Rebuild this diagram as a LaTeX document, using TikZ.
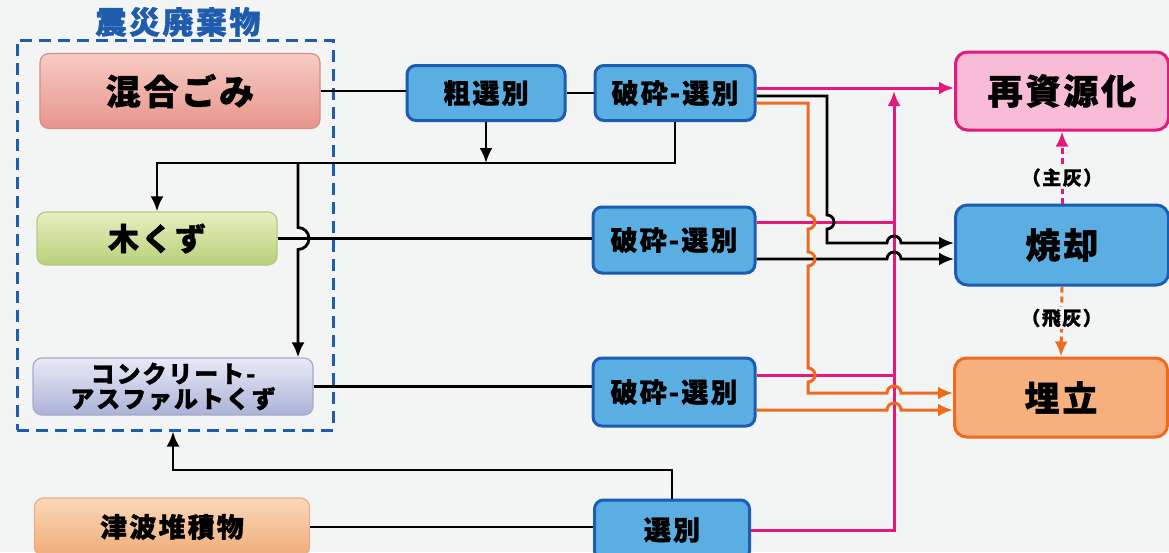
\documentclass[tikz,border=0pt]{standalone}
\usepackage{fontspec}
\setmainfont{Noto Sans CJK JP}[LetterSpace=8, BoldFeatures={FakeBold=1.2}]
\usepackage{tikz}
\usetikzlibrary{positioning,calc}
\usetikzlibrary{arrows.meta}

\definecolor{bgc}{HTML}{F3F4F4}
\definecolor{procfill}{HTML}{5AAEE2}
\definecolor{procline}{HTML}{1A5DB2}
\definecolor{pk}{HTML}{E3197B}
\definecolor{og}{HTML}{EE6A1E}
\definecolor{grpblue}{HTML}{1F5CAE}
\definecolor{mixtop}{HTML}{F7CCC4}
\definecolor{mixbot}{HTML}{E8948A}
\definecolor{mixline}{HTML}{D49088}
\definecolor{woodtop}{HTML}{E6EFC0}
\definecolor{woodbot}{HTML}{B8D07A}
\definecolor{woodline}{HTML}{B4C98A}
\definecolor{conctop}{HTML}{E8EAF6}
\definecolor{concbot}{HTML}{AAB3D8}
\definecolor{concline}{HTML}{A4ABC8}
\definecolor{tsutop}{HTML}{FAD8BA}
\definecolor{tsubot}{HTML}{F0AC78}
\definecolor{tsuline}{HTML}{E6AE8C}
\definecolor{recyfill}{HTML}{F8BCD6}
\definecolor{landfill}{HTML}{F5B07E}

\tikzstyle{src} = [rectangle, rounded corners=9pt, line width=1.2pt, text centered]
\tikzstyle{proc} = [rectangle, rounded corners=9pt, line width=3pt, draw=procline, fill=procfill, text centered, font=\bfseries\fontsize{27}{29}\selectfont]
\tikzstyle{dest} = [rectangle, rounded corners=12pt, line width=3pt, minimum width=213pt, minimum height=78pt, text centered, font=\bfseries\fontsize{35}{37}\selectfont]
\tikzstyle{conn} = [line width=2.8pt, draw=black]
\tikzstyle{pline} = [line width=3pt, draw=pk]
\tikzstyle{oline} = [line width=3pt, draw=og]
\tikzstyle{arrow} = [-{Latex[length=15pt,width=13pt]}]
\tikzstyle{ash} = [fill=bgc, inner sep=2pt, font=\bfseries\fontsize{19}{21}\selectfont]

\begin{document}
\begin{tikzpicture}[x=1pt, y=-1pt]
	\fill[bgc] (0,0) rectangle (1169,552);
	\useasboundingbox (0,0) rectangle (1169,552);
	% disaster waste group
	\node (title) at (178,22) [text=grpblue, font=\bfseries\fontsize{31}{33}\selectfont] {震災廃棄物};
	\node (grp) at (175,235) [draw=grpblue, line width=3pt, dash pattern=on 12pt off 7pt, minimum width=316pt, minimum height=390pt] {};
	\node (mix) at (180,91) [src, minimum width=280pt, minimum height=75pt, draw=mixline, top color=mixtop, bottom color=mixbot, font=\bfseries\fontsize{35}{37}\selectfont] {混合ごみ};
	\node (wood) at (157,238.5) [src, minimum width=240pt, minimum height=53pt, draw=woodline, top color=woodtop, bottom color=woodbot, font=\bfseries\fontsize{31}{33}\selectfont] {木くず};
	\node (conc) at (173,386.5) [src, minimum width=280pt, minimum height=57pt, draw=concline, top color=conctop, bottom color=concbot, align=center, font=\bfseries\fontsize{24}{25}\selectfont] {コンクリート-\\アスファルトくず};
	\node (tsu) at (172,527) [src, minimum width=275pt, minimum height=58pt, draw=tsuline, top color=tsutop, bottom color=tsubot, font=\bfseries\fontsize{27}{29}\selectfont] {津波堆積物};
	% treatment
	\node (rough) at (486,93) [proc, minimum width=158pt, minimum height=55pt] {粗選別};
	\node (crush1) at (675,93) [proc, minimum width=160pt, minimum height=55pt] {破砕-選別};
	\node (crush2) at (674,240) [proc, minimum width=162pt, minimum height=66pt] {破砕-選別};
	\node (crush3) at (674,392) [proc, minimum width=162pt, minimum height=68pt] {破砕-選別};
	\node (sort) at (672,530) [proc, minimum width=155pt, minimum height=60pt] {選別};
	% destinations
	\node (recy) at (1062,91) [dest, draw=pk, fill=recyfill] {再資源化};
	\node (burn) at (1062,245) [dest, draw=procline, fill=procfill, minimum height=80pt] {焼却};
	\node (land) at (1061,397.5) [dest, draw=og, fill=landfill, minimum height=79pt] {埋立};

	\coordinate (c1p) at ([yshift=5pt]crush1.east);
	\coordinate (c1b) at ([yshift=-3pt]crush1.east);
	\coordinate (c1o) at ([yshift=-10pt]crush1.east);
	\coordinate (c2p) at ([yshift=18pt]crush2.east);
	\coordinate (c2b) at ([yshift=-19pt]crush2.east);
	\coordinate (c3p) at ([yshift=17pt]crush3.east);
	\coordinate (c3o) at ([yshift=-18pt]crush3.east);
	\coordinate (bin) at ([yshift=2pt]burn.west);
	\coordinate (lin) at ([yshift=4.5pt]land.west);
	\coordinate (xo) at (808,0);
	\coordinate (xb) at (827,0);
	\coordinate (xp) at (894,0);
	\coordinate (jn) at (298,163);
	\coordinate (rt) at (173,470);

	% left side
	\draw[conn] (mix.east) -- (mix.east -| rough.west);
	\draw[conn] (rough.east) -- (crush1.west);
	\draw[conn,arrow] (rough.south) -- (rough.south |- jn);
	\draw[conn,arrow] (crush1.south) |- (wood.north |- jn) -- (wood.north);
	\draw[conn] (wood.east) -- (wood.east -| crush2.west);
	\draw[conn,arrow] (jn) -- ($(jn |- wood.east)+(0,-11)$) arc[start angle=90,end angle=-90,radius=11pt] -- (jn |- conc.north);
	\draw[conn] (conc.east) -- (conc.east -| crush3.west);
	\draw[conn] (tsu.east) -- (tsu.east -| sort.west);
	\draw[conn,arrow] (sort.north) |- (rt) -- (rt |- grp.south);

	% right side
	\draw[pline,arrow] (c1p) -- (c1p -| recy.west);
	\draw[pline] (c2p) -- (c2p -| xp);
	\draw[pline] (c3p) -- (c3p -| xp);
	\draw[pline,arrow] (sort.east) -| ($(xp |- c1p)+(0,3)$);
	\draw[conn,arrow] (c1b) -| ($(xb |- c2p)+(0,-7)$) arc[start angle=90,end angle=-90,radius=7pt]
		|- ($(xp |- bin)+(-7,0)$) arc[start angle=180,end angle=0,radius=7pt] -- (bin);
	\draw[conn,arrow] (c2b) -- ($(xp |- c2b)+(-7,0)$) arc[start angle=180,end angle=0,radius=7pt] -- (c2b -| burn.west);
	\draw[oline,arrow] (c1o) -| ($(xo |- c2p)+(0,-7)$) arc[start angle=90,end angle=-90,radius=7pt]
		-- ($(xo |- c2b)+(0,-7)$) arc[start angle=90,end angle=-90,radius=7pt]
		-- ($(xo |- c3p)+(0,-7)$) arc[start angle=90,end angle=-90,radius=7pt]
		|- ($(xp |- lin)+(-7,0)$) arc[start angle=180,end angle=0,radius=7pt] -- (lin);
	\draw[oline,arrow] (c3o) -- ($(xp |- c3o)+(-7,0)$) arc[start angle=180,end angle=0,radius=7pt] -- (c3o -| land.west);

	% ash
	\draw[pline,dash pattern=on 6pt off 4pt,arrow] (burn.north) -- (recy.south) node[pos=0.36, ash] {（主灰）};
	\draw[oline,dash pattern=on 6pt off 4pt,arrow] (burn.south) -- (land.north) node[pos=0.45, ash] {（飛灰）};
\end{tikzpicture}
\end{document}
